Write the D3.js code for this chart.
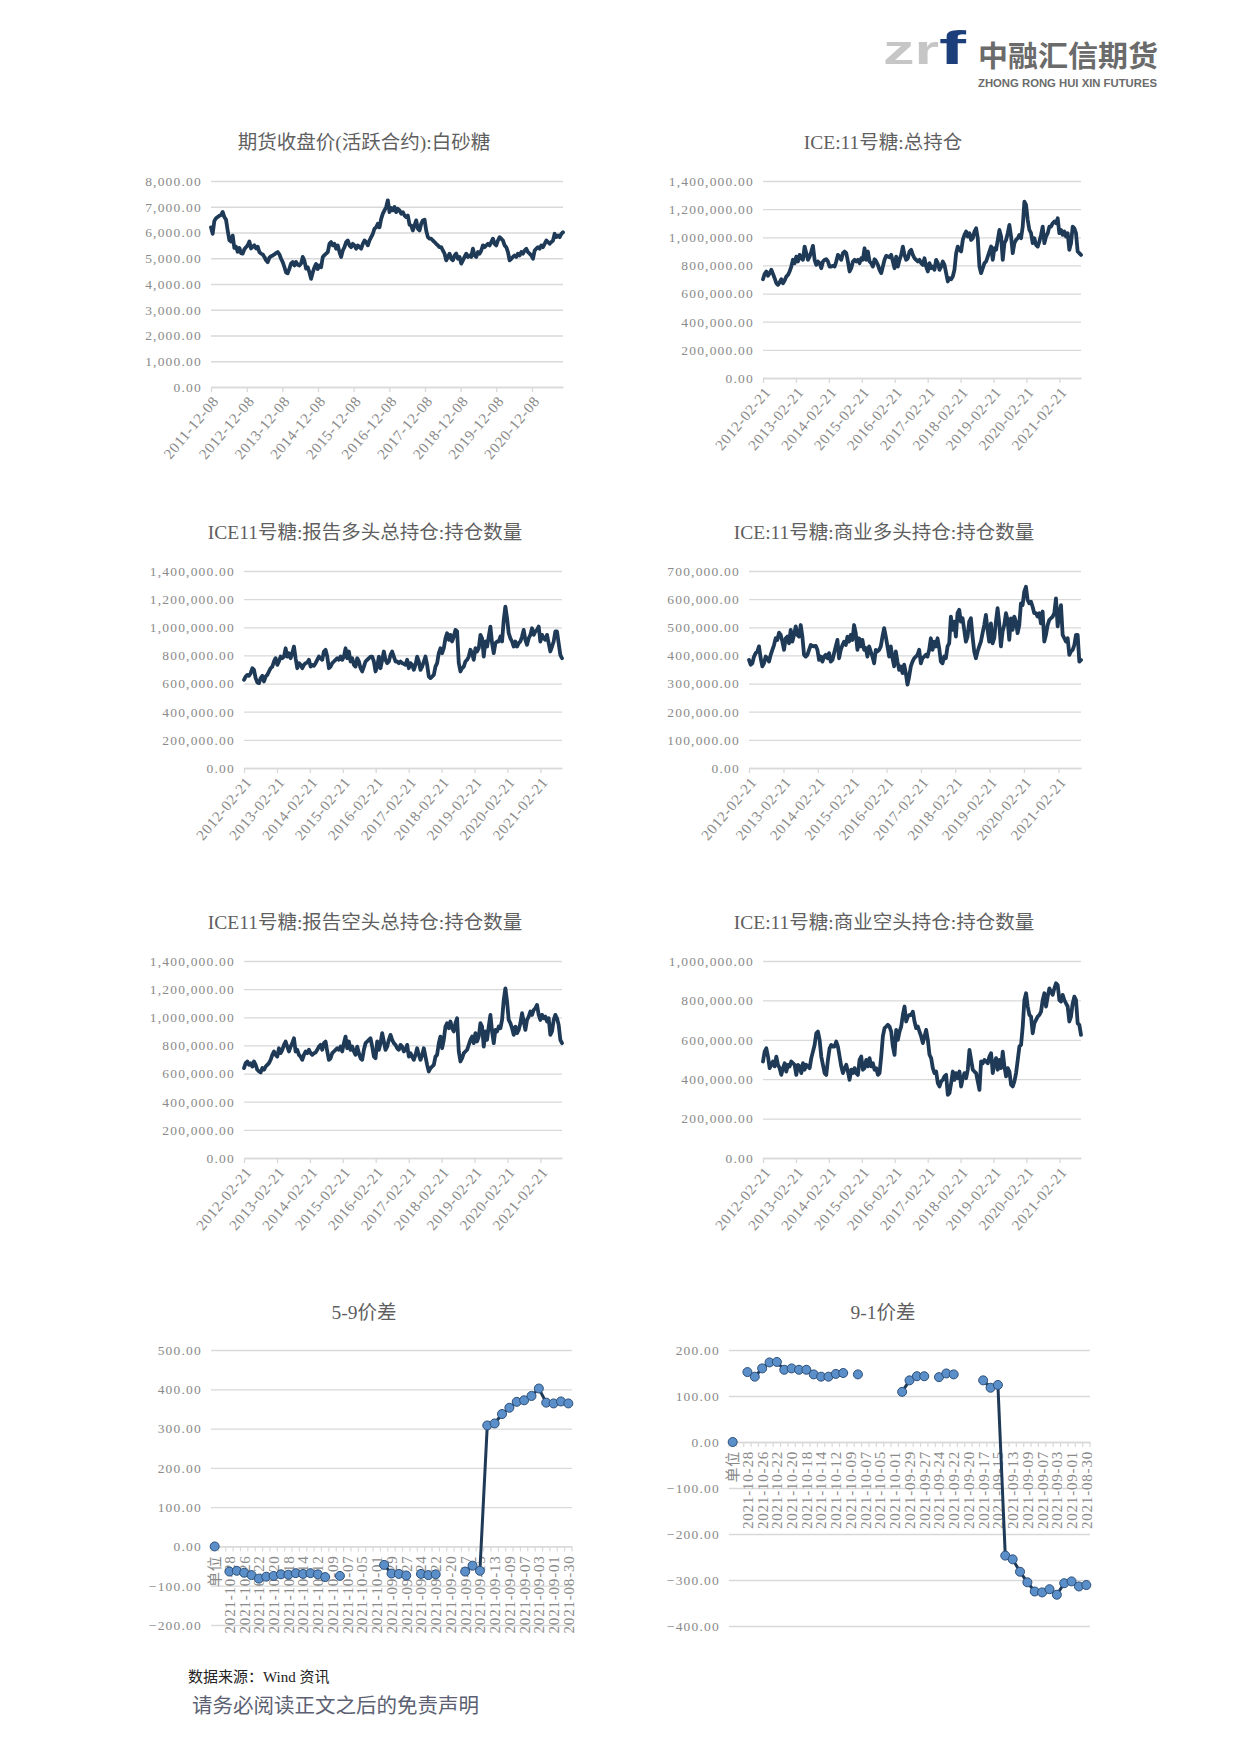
<!DOCTYPE html>
<html><head><meta charset="utf-8">
<script src="https://cdn.jsdelivr.net/npm/d3@7"></script>
<style>
html,body{margin:0;padding:0;background:#fff;}
svg text{font-family:"Liberation Serif","Noto Sans CJK SC",serif;}
</style></head><body>
<svg id="page" width="1240" height="1753"></svg>
<script>
// ---------------- DATA ----------------
const sugarTicksX = ["2011-12-08","2012-12-08","2013-12-08","2014-12-08","2015-12-08","2016-12-08","2017-12-08","2018-12-08","2019-12-08","2020-12-08"];
const iceTicksX = ["2012-02-21","2013-02-21","2014-02-21","2015-02-21","2016-02-21","2017-02-21","2018-02-21","2019-02-21","2020-02-21","2021-02-21"];
const sugarYTicks = [0,1000,2000,3000,4000,5000,6000,7000,8000];
const oi14YTicks = [0,200000,400000,600000,800000,1000000,1200000,1400000];
const oi7YTicks = [0,100000,200000,300000,400000,500000,600000,700000];
const oi10YTicks = [0,200000,400000,600000,800000,1000000];

// 期货收盘价(活跃合约):白砂糖  (yuan/t), 2011-12-08 .. 2021-10-22
const sugarClose = [6200,5950,6450,6550,6600,6650,6680,6800,6600,6500,6080,5700,5650,5880,5400,5450,5250,5400,5200,5180,5350,5430,5500,5650,5380,5450,5500,5380,5450,5240,5180,5150,5050,4920,4850,5020,5080,5110,5150,5200,5240,5150,4980,4850,4660,4450,4420,4600,4800,4850,4720,4860,4750,4720,4800,5050,4900,4600,4650,4450,4200,4450,4650,4780,4580,4720,4650,5050,5120,5180,5240,5560,5630,5500,5560,5370,5500,5240,5050,5300,5430,5630,5690,5500,5430,5560,5500,5370,5500,5430,5370,5560,5690,5630,5500,5690,5820,5950,6150,6200,6340,6200,6530,6730,6860,6990,7250,6790,6950,6860,6990,6790,6920,6860,6730,6790,6660,6600,6660,6300,6270,6080,6280,6470,6150,6080,6340,6470,6500,6080,5820,5760,5760,5690,5630,5560,5500,5430,5430,5300,5180,4920,5050,5180,4980,4920,5110,5180,4980,5050,4790,4920,5050,5180,5050,5110,5050,5370,5110,5050,5240,5180,5300,5500,5430,5500,5560,5500,5630,5760,5560,5500,5690,5820,5760,5690,5500,5430,5240,4920,4980,5050,5110,5050,5180,5110,5240,5180,5300,5370,5240,5180,5110,4980,5300,5370,5430,5370,5500,5430,5560,5690,5630,5560,5630,5690,5950,5820,5880,5820,5950,6010];

// ICE No.11 positions, thousand contracts, weekly 2012-02-21 .. 2021-10-19
const iceTotalOI_k = [702,740,757,726,745,769,740,709,674,662,679,702,674,693,721,733,757,792,840,816,863,828,875,851,840,934,887,840,863,899,939,840,804,828,816,780,828,840,844,828,792,792,797,792,828,875,863,840,887,899,887,828,757,780,828,840,828,840,816,851,840,922,840,899,828,816,792,844,828,804,769,745,792,840,868,863,858,875,828,780,863,792,840,875,934,875,840,851,899,911,875,851,840,828,840,816,804,851,792,757,816,780,792,769,840,816,769,792,828,804,745,686,709,702,721,769,887,934,911,899,981,1017,1041,1005,1029,981,993,1041,1064,993,792,745,780,816,828,863,899,934,840,922,911,981,1052,1005,840,958,981,1029,1088,1005,887,958,981,993,1017,993,1076,1253,1230,1123,1052,1029,958,993,946,934,970,1017,1076,958,1005,1029,1076,1076,1100,1112,1100,1135,1029,1052,1017,1041,1005,1029,911,958,1076,1064,1029,899,887,875];
const iceReportLong_k = [627,650,662,655,674,709,698,639,608,603,639,655,615,650,662,686,709,721,757,780,733,757,792,780,792,851,792,816,780,816,863,780,709,745,733,709,733,745,750,769,721,733,726,745,769,792,780,769,828,840,792,709,721,745,757,769,780,769,792,769,792,851,780,828,757,780,733,721,780,757,709,686,721,757,769,780,792,792,757,686,721,792,709,769,828,769,745,757,804,828,792,757,757,745,757,745,740,733,769,709,745,733,698,733,792,757,698,721,757,792,733,650,639,650,662,721,745,816,851,816,851,922,958,911,946,899,934,981,970,745,686,709,721,757,769,792,840,816,769,851,828,851,946,922,792,899,863,934,1005,887,816,887,899,899,934,899,1052,1147,1064,958,922,899,863,899,863,887,899,934,981,911,875,922,946,993,946,970,981,1005,899,946,922,911,946,887,828,863,899,970,970,887,804,780];
const iceCommLong_k = [384,367,372,396,408,414,432,390,361,372,396,390,378,402,420,437,461,455,481,473,449,420,461,467,443,491,449,473,503,473,467,508,467,402,396,402,420,437,434,432,434,420,384,396,378,396,402,390,408,378,384,408,432,455,390,420,437,449,437,467,449,473,455,508,479,420,461,432,455,420,426,396,432,414,396,372,420,414,420,432,467,497,467,432,396,432,390,361,414,378,349,361,337,367,337,296,325,361,378,390,396,402,420,372,390,396,402,396,420,461,420,449,432,461,426,378,372,396,390,432,443,538,491,520,467,550,562,520,532,491,449,467,520,532,467,414,390,414,432,449,479,508,544,491,449,514,443,461,520,568,514,432,485,508,550,526,455,532,491,538,520,479,508,585,579,627,644,597,585,591,573,550,550,538,550,514,556,449,473,508,526,532,538,550,603,503,550,579,473,461,449,461,402,414,420,437,473,473,378,384];
const iceReportShort_k = [639,674,686,662,674,650,686,662,627,615,608,639,627,650,662,674,698,733,757,733,721,780,745,769,804,828,792,757,792,816,851,757,769,733,721,698,733,757,745,769,745,733,745,750,769,792,804,769,816,828,757,698,709,745,757,769,780,769,792,757,816,863,780,828,769,792,757,733,792,745,709,698,769,816,828,840,851,792,721,709,828,769,816,887,828,769,792,840,875,840,816,804,780,769,804,792,757,769,804,721,745,721,698,733,780,733,698,733,780,721,662,615,639,650,662,721,733,816,863,780,840,934,958,922,970,922,899,958,993,757,686,709,745,757,769,804,840,863,816,887,828,863,958,934,792,899,840,934,1017,899,816,911,899,934,922,981,1123,1206,1112,981,958,922,875,934,887,911,958,1029,970,911,981,1005,1041,1017,1052,1064,1088,1017,981,1017,993,1005,970,993,875,899,981,1017,993,946,840,816];
const iceCommShort_k = [490,540,557,515,456,473,490,465,515,473,456,422,456,481,439,473,465,490,481,473,422,473,465,431,481,448,473,465,456,507,540,574,633,642,600,515,473,431,422,498,557,574,566,566,591,566,515,465,431,456,473,439,397,448,431,456,431,422,498,515,448,456,498,465,507,465,481,448,456,422,431,515,617,659,667,676,667,642,566,524,650,600,642,667,726,769,693,718,726,726,743,693,659,667,642,617,583,617,650,600,524,507,456,431,439,380,363,389,397,414,422,321,329,380,439,397,431,405,439,363,405,431,405,448,549,498,448,439,431,389,346,490,481,498,490,481,515,532,431,481,507,448,498,456,540,465,414,456,439,372,363,389,431,498,566,574,667,802,836,769,726,718,633,684,701,718,726,743,802,836,769,819,861,844,828,861,887,878,802,794,828,802,785,769,693,718,785,819,802,684,676,625];

// Spread charts (category axis, newest first)
const spreadCats = ["单位","2021-10-29","2021-10-28","2021-10-27","2021-10-26","2021-10-25","2021-10-22","2021-10-21","2021-10-20","2021-10-19","2021-10-18","2021-10-15","2021-10-14","2021-10-13","2021-10-12","2021-10-11","2021-10-09","2021-10-08","2021-10-07","2021-10-06","2021-10-05","2021-10-04","2021-10-01","2021-09-30","2021-09-29","2021-09-28","2021-09-27","2021-09-26","2021-09-24","2021-09-23","2021-09-22","2021-09-21","2021-09-20","2021-09-18","2021-09-17","2021-09-16","2021-09-15","2021-09-14","2021-09-13","2021-09-10","2021-09-09","2021-09-08","2021-09-07","2021-09-06","2021-09-03","2021-09-02","2021-09-01","2021-08-31","2021-08-30"];
const spread59 = [0,null,-64,-62,-67,-73,-82,-77,-75,-71,-72,-68,-70,-68,-71,-78,null,-75,null,null,null,null,null,-47,-69,-70,-74,null,-70,-73,-71,null,null,null,-64,-49,-62,308,313,337,353,368,372,383,402,366,364,369,364];
const spread91 = [0,null,152,142,160,173,174,157,160,157,157,147,142,142,148,150,null,147,null,null,null,null,null,109,134,143,143,null,141,149,147,null,null,null,134,118,124,-247,-255,-282,-305,-325,-327,-320,-332,-307,-303,-314,-311];
const spread59YTicks = [-200,-100,0,100,200,300,400,500];
const spread91YTicks = [-400,-300,-200,-100,0,100,200];

// ---------------- DRAW ----------------
const svg = d3.select('#page');
const fmt = d3.format(',.2f');
const parse = d3.timeParse('%Y-%m-%d');
const GRID = '#d9d9d9', TICKTXT = '#8a8a8a', TITLE = '#5f5f5f', LINE = '#1f3a57';

function title(txt, cx, cy){
  svg.append('text').attr('x',cx).attr('y',cy).attr('dy','0.35em')
    .attr('text-anchor','middle').attr('font-size',19.5).attr('fill',TITLE).text(txt);
}

function yAxis(g, y, ticks, x0, x1){
  const gy = g.append('g').attr('transform',`translate(${x0},0)`)
    .call(d3.axisLeft(y).tickValues(ticks).tickFormat(v=>fmt(v)).tickSize(-(x1-x0)).tickPadding(9));
  gy.select('.domain').remove();
  gy.selectAll('line').attr('stroke',GRID).attr('stroke-width',1.3);
  gy.selectAll('text').attr('fill',TICKTXT).attr('font-size',13.5).style('letter-spacing','1.2px');
  return gy;
}

function timeChart(o){
  const g = svg.append('g');
  const t0 = parse(o.start), t1 = parse(o.end);
  const n = o.values.length;
  const dates = o.values.map((v,i)=> new Date(+t0 + (t1 - t0) * i / (n - 1)));
  const x = d3.scaleTime().domain([t0,t1]).range([o.x0,o.x1]);
  const y = d3.scaleLinear().domain([0,o.yMax]).range([o.yB,o.yT]);
  yAxis(g, y, o.yTicks, o.x0, o.x1);
  const gx = g.append('g').attr('transform',`translate(0,${o.yB})`)
    .call(d3.axisBottom(x).tickValues(o.xTicks.map(parse)).tickFormat(d3.timeFormat('%Y-%m-%d')).tickSize(5).tickSizeOuter(0));
  gx.select('.domain').attr('stroke',GRID).attr('stroke-width',1.3);
  gx.selectAll('line').attr('stroke',GRID).attr('stroke-width',1.3);
  gx.selectAll('text').attr('x',0).attr('y',0).attr('dy','0.35em')
    .attr('transform','translate(4,11) rotate(-50)').attr('text-anchor','end')
    .attr('fill',TICKTXT).attr('font-size',15).style('letter-spacing','0.7px');
  const line = d3.line().x((d,i)=>x(dates[i])).y(d=>y(d*o.k)).curve(d3.curveLinear);
  g.append('path').datum(o.values).attr('d',line).attr('fill','none')
    .attr('stroke',LINE).attr('stroke-width',3.8).attr('stroke-linejoin','round').attr('stroke-linecap','round');
  title(o.title, o.tx, o.ty);
}

function catChart(o){
  const g = svg.append('g');
  const x = d3.scaleBand().domain(d3.range(spreadCats.length)).range([o.x0,o.x1]);
  const y = d3.scaleLinear().domain([o.yMin,o.yMax]).range([o.yB,o.yT]);
  yAxis(g, y, o.yTicks, o.x0, o.x1);
  const ay = y(0);
  const gx = g.append('g').attr('transform',`translate(0,${ay})`)
    .call(d3.axisBottom(x).tickFormat(i => i % 2 === 0 ? spreadCats[i] : '').tickSize(0).tickSizeOuter(0));
  gx.select('.domain').attr('stroke',GRID).attr('stroke-width',1.3);
  gx.selectAll('text').attr('x',0).attr('y',0).attr('dy','0.36em')
    .attr('transform','translate(0,9) rotate(-90)').attr('text-anchor','end')
    .attr('fill',TICKTXT).attr('font-size',15).style('letter-spacing','0.8px');
  const bounds = d3.range(spreadCats.length).map(i=>x(i)).concat([o.x1]);
  g.append('g').selectAll('line').data(bounds).join('line')
    .attr('x1',d=>d).attr('x2',d=>d).attr('y1',ay).attr('y2',ay+5)
    .attr('stroke',GRID).attr('stroke-width',1.2);
  const cx = i => x(i) + x.bandwidth()/2;
  const line = d3.line().defined(d=>d!=null).x((d,i)=>cx(i)).y(d=>y(d));
  g.append('path').datum(o.values).attr('d',line).attr('fill','none')
    .attr('stroke',LINE).attr('stroke-width',3).attr('stroke-linejoin','round');
  g.append('g').selectAll('circle').data(o.values.map((v,i)=>({v,i})).filter(d=>d.v!=null)).join('circle')
    .attr('cx',d=>cx(d.i)).attr('cy',d=>y(d.v)).attr('r',4.5)
    .attr('fill','#5b8fca').attr('stroke','#2c4f78').attr('stroke-width',1);
  title(o.title, o.tx, o.ty);
}

timeChart({title:'期货收盘价(活跃合约):白砂糖', tx:364, ty:142, values:sugarClose, k:1,
  start:'2011-12-08', end:'2021-10-22', xTicks:sugarTicksX, x0:211, x1:563, yT:181, yB:387, yMax:8000, yTicks:sugarYTicks});
timeChart({title:'ICE:11号糖:总持仓', tx:883, ty:142, values:iceTotalOI_k, k:1000,
  start:'2012-02-21', end:'2021-10-19', xTicks:iceTicksX, x0:763, x1:1081, yT:181, yB:378, yMax:1400000, yTicks:oi14YTicks});
timeChart({title:'ICE11号糖:报告多头总持仓:持仓数量', tx:365, ty:532, values:iceReportLong_k, k:1000,
  start:'2012-02-21', end:'2021-10-19', xTicks:iceTicksX, x0:244, x1:562, yT:571, yB:768, yMax:1400000, yTicks:oi14YTicks});
timeChart({title:'ICE:11号糖:商业多头持仓:持仓数量', tx:884, ty:532, values:iceCommLong_k, k:1000,
  start:'2012-02-21', end:'2021-10-19', xTicks:iceTicksX, x0:749, x1:1081, yT:571, yB:768, yMax:700000, yTicks:oi7YTicks});
timeChart({title:'ICE11号糖:报告空头总持仓:持仓数量', tx:365, ty:922, values:iceReportShort_k, k:1000,
  start:'2012-02-21', end:'2021-10-19', xTicks:iceTicksX, x0:244, x1:562, yT:961, yB:1158, yMax:1400000, yTicks:oi14YTicks});
timeChart({title:'ICE:11号糖:商业空头持仓:持仓数量', tx:884, ty:922, values:iceCommShort_k, k:1000,
  start:'2012-02-21', end:'2021-10-19', xTicks:iceTicksX, x0:763, x1:1081, yT:961, yB:1158, yMax:1000000, yTicks:oi10YTicks});
catChart({title:'5-9价差', tx:364, ty:1312, values:spread59, x0:211, x1:572, yT:1350, yB:1625, yMin:-200, yMax:500, yTicks:spread59YTicks});
catChart({title:'9-1价差', tx:883, ty:1312, values:spread91, x0:729, x1:1090, yT:1350, yB:1626, yMin:-400, yMax:200, yTicks:spread91YTicks});

// header logo
const logo = svg.append('g');
logo.append('text').attr('x',883).attr('y',64).attr('font-size',40).attr('font-weight','bold')
  .attr('fill','#c6c6c6').attr('textLength',56).attr('lengthAdjust','spacingAndGlyphs')
  .style('font-family','"Liberation Sans",sans-serif').text('zr');
logo.append('text').attr('x',939).attr('y',64).attr('font-size',46).attr('font-weight','bold')
  .attr('fill','#1c3f7b').attr('textLength',27).attr('lengthAdjust','spacingAndGlyphs')
  .style('font-family','"Liberation Sans",sans-serif').text('f');
logo.append('text').attr('x',978).attr('y',67).attr('font-size',29).attr('font-weight','bold')
  .attr('fill','#6b6b6b').attr('textLength',180).attr('lengthAdjust','spacingAndGlyphs')
  .style('font-family','"Noto Sans CJK SC",sans-serif').text('中融汇信期货');
logo.append('text').attr('x',978).attr('y',87).attr('font-size',11).attr('font-weight','bold')
  .attr('fill','#6b6b6b').attr('textLength',179).attr('lengthAdjust','spacingAndGlyphs')
  .style('font-family','"Liberation Sans",sans-serif').text('ZHONG RONG HUI XIN FUTURES');

// footer
svg.append('text').attr('x',188).attr('y',1682).attr('font-size',15).attr('fill','#222').text('数据来源：Wind 资讯');
svg.append('text').attr('x',192).attr('y',1713).attr('font-size',20.5).attr('fill','#5b6172').text('请务必阅读正文之后的免责声明');
</script>
</body></html>
